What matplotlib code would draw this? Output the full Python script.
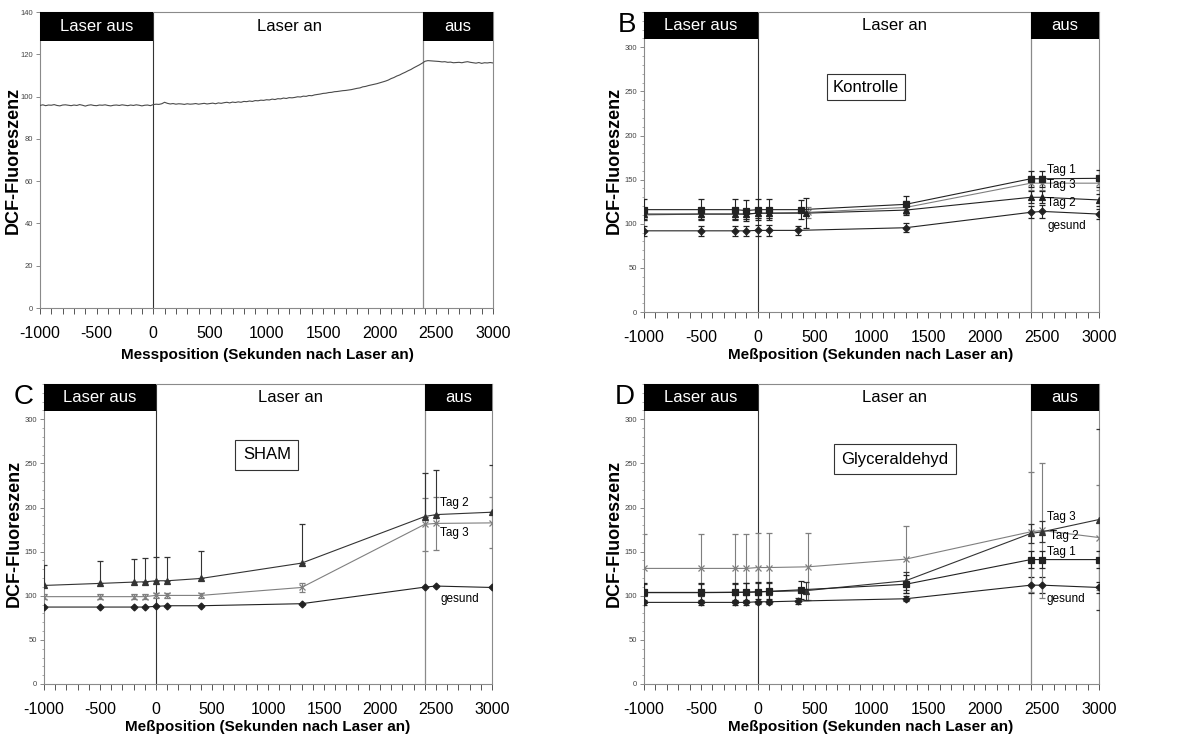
import numpy as np
import matplotlib
matplotlib.use("Agg")
import matplotlib.pyplot as plt
from matplotlib.ticker import MultipleLocator

plt.rcParams['font.family'] = ['Liberation Sans', 'DejaVu Sans']
plt.rcParams['axes.unicode_minus'] = False

# ---------------- Panel A data (continuous trace) ----------------
a_values = [
    95.8, 96.1, 95.7, 96.0, 95.9, 96.2, 95.8, 95.6, 96.0, 96.1,
    95.9, 95.7, 96.0, 95.8, 96.2, 95.9, 95.5, 95.9, 96.1, 95.8,
    95.7, 96.0, 95.9, 96.1, 95.8, 95.6, 95.9, 96.0, 95.8, 96.1,
    95.9, 95.7, 96.0, 95.8, 96.1, 95.9, 95.6, 95.9, 96.0, 95.7,
    96.2, 96.4, 96.3, 96.6, 97.3, 96.8, 96.5, 96.7, 96.4, 96.6,
    96.5, 96.3, 96.6, 96.4, 96.5, 96.7, 96.4, 96.6, 96.8, 96.5,
    96.7, 96.9, 96.6, 97.0, 96.8, 97.1, 97.3, 97.0, 97.4, 97.2,
    97.5, 97.3, 97.7, 97.6, 97.9, 97.7, 98.1, 98.0, 98.3, 98.2,
    98.5, 98.4, 98.8, 98.6, 99.0, 98.9, 99.3, 99.1, 99.5, 99.4,
    99.6, 99.9, 99.8, 100.2, 100.1, 100.5, 100.4, 100.8, 101.0, 101.2,
    101.5, 101.6, 101.9, 102.0, 102.3, 102.4, 102.6, 102.8, 102.9, 103.1,
    103.3, 103.6, 103.9, 104.1, 104.6, 104.8, 105.2, 105.5, 105.8, 106.1,
    106.5, 106.9, 107.3, 107.8, 108.5, 109.0, 109.7, 110.2, 110.9, 111.5,
    112.2, 112.8, 113.6, 114.3, 115.0, 115.8, 116.7, 117.0, 116.9, 116.8,
    116.7, 116.6, 116.4, 116.5, 116.2, 116.3, 116.0, 116.1, 116.2, 116.0,
    116.3, 116.5, 116.2, 116.0, 115.8, 116.1, 115.7, 116.0, 115.9, 116.1,
    115.9,
]
a_time = np.linspace(-1000, 3000, len(a_values))

# ---------------- Panel B (Kontrolle) ----------------
b_x_t1 = [-1000, -500, -200, -100, 0, 100, 380, 1300, 2400, 2500, 3000]
b_t1 = [116, 116, 116, 115, 116, 116, 116, 122, 151, 151, 151.5]
b_t1_err = [12, 12, 12, 12, 12, 12, 11, 10, 9, 9, 10]
b_x_t2 = [-1000, -500, -200, -100, 0, 100, 420, 1300, 2400, 2500, 3000]
b_t2 = [111, 111, 111, 111, 112, 112, 112, 115.5, 130, 130, 127]
b_t2_err = [6, 6, 6, 6, 6, 6, 17, 6, 7, 7, 7]
b_x_t3 = [-1000, -500, -200, -100, 0, 100, 440, 1300, 2400, 2500, 3000]
b_t3 = [110, 111, 111, 111, 112, 112, 113, 118.5, 146, 146, 146]
b_t3_err = [6, 6, 6, 6, 6, 6, 6, 7, 8, 8, 8]
b_x_g = [-1000, -500, -200, -100, 0, 100, 350, 1300, 2400, 2500, 3000]
b_g = [92, 92, 92, 92, 92.5, 92.5, 92.5, 95.5, 113, 114, 111]
b_g_err = [6, 6, 6, 6, 6, 6, 5, 5, 7, 7, 6]

# ---------------- Panel C (SHAM) ----------------
c_x = [-1000, -500, -200, -100, 0, 100, 400, 1300, 2400, 2500, 3000]
c_t2 = [111.7, 114, 115.5, 115.8, 117, 117, 119.6, 137, 189.8, 192, 194.7]
c_t2_err_lo = [0, 0, 0, 0, 0, 0, 0, 0, 0, 0, 0]
c_t2_err_hi = [23, 25, 26, 27, 27, 27, 31, 44, 49, 51, 53]
c_t3 = [99, 99, 99, 99, 100.4, 100.4, 100.4, 109.4, 181, 182, 182.6]
c_t3_err = [3, 3, 3, 3, 3, 3, 3, 5, 30, 30, 29]
c_g = [87.2, 87.2, 87.2, 87.2, 88, 88.7, 88.7, 91, 109.8, 111, 109.4]

# ---------------- Panel D (Glyceraldehyd) ----------------
d_x_sq = [-1000, -500, -200, -100, 0, 100, 380, 1300, 2400, 2500, 3000]
d_sq = [103.8, 103.8, 104, 104, 104.5, 105, 106.8, 113, 141, 141, 141]
d_sq_err = [11, 11, 11, 11, 11, 11, 10, 10, 10, 10, 10]
d_x_tri = [-1000, -500, -200, -100, 0, 100, 420, 1300, 2400, 2500, 3000]
d_tri = [103.5, 103.5, 103.8, 104, 104.3, 104.8, 105.7, 117, 170.6, 172.5, 186.4]
d_tri_err = [10, 10, 10, 10, 10, 10, 10, 10, 11, 12, 103]
d_x_cross = [-1000, -500, -200, -100, 0, 100, 440, 1300, 2400, 2500, 3000]
d_cross = [131, 131, 131, 131, 132, 132, 132.8, 141.5, 172.5, 174, 166]
d_cross_err = [39, 39, 39, 39, 39, 39, 38, 38, 68, 76, 60]
d_x_g = [-1000, -500, -200, -100, 0, 100, 350, 1300, 2400, 2500, 3000]
d_g = [92.5, 92.5, 92.5, 92.5, 93.2, 93.2, 94, 96.6, 112, 112, 109.4]
d_g_err = [3, 3, 3, 3, 3, 3, 3, 3, 9, 9, 6]

x_ticks = [-1000, -500, 0, 500, 1000, 1500, 2000, 2500, 3000]
phase_labels = ["Laser aus", "Laser an", "aus"]

W, H = 1190, 738
fig = plt.figure(figsize=(W / 100, H / 100), dpi=100)

def px_axes(l, t, r, b):
    return fig.add_axes([l / W, 1 - b / H, (r - l) / W, (b - t) / H])

BLACK = '#222222'
GRAY = '#7f7f7f'

def setup(ax, ymax, bar_bottom, yticks, yminor, laser_off_x):
    ax.set_xlim(-1000, 3000)
    ax.set_ylim(0, ymax)
    for s in ax.spines.values():
        s.set_color('#8a8a8a')
        s.set_linewidth(0.8)
    ax.set_xticks(x_ticks)
    ax.xaxis.set_minor_locator(MultipleLocator(100))
    ax.set_yticks(yticks)
    if yminor:
        ax.yaxis.set_minor_locator(MultipleLocator(yminor))
    ax.tick_params(axis='x', which='both', direction='out', length=4, width=0.7,
                   color='#555555', labelsize=11.5, pad=9)
    ax.tick_params(axis='y', which='major', direction='out', length=3, width=0.6,
                   color='#777777', labelsize=5.5, labelcolor='#444444', pad=2)
    ax.tick_params(axis='y', which='minor', direction='out', length=1.5, width=0.5,
                   color='#888888')
    # black header bars
    ax.fill_between([-1000, 0], bar_bottom, ymax, color='black', lw=0, zorder=5)
    ax.fill_between([laser_off_x, 3000], bar_bottom, ymax, color='black', lw=0, zorder=5)
    ymid = (bar_bottom + ymax) / 2
    ax.text(-500, ymid, phase_labels[0], color='white', ha='center', va='center',
            fontsize=12, zorder=6)
    ax.text(1200, ymid, phase_labels[1], color='black', ha='center', va='center',
            fontsize=12, zorder=6)
    ax.text((laser_off_x + 3000) / 2, ymid, phase_labels[2], color='white',
            ha='center', va='center', fontsize=12, zorder=6)
    ax.axvline(0, color='#333333', lw=0.8, zorder=1)
    ax.axvline(laser_off_x, color='#8a8a8a', lw=0.9, zorder=1)

def ylabel(x, y):
    fig.text(x / W, 1 - y / H, "DCF-Fluoreszenz", rotation=90, ha='center', va='center',
             fontsize=13, fontweight='bold')

def xlabel(x, y, txt):
    fig.text(x / W, 1 - y / H, txt, ha='center', va='center', fontsize=11,
             fontweight='bold')

def series(ax, x, y, err, marker, ms, color):
    ax.errorbar(x, y, yerr=err, color=color, lw=0.8, marker=marker, ms=ms,
                mfc=color, mec=color, mew=0.9, elinewidth=0.8, capsize=2,
                capthick=0.8, ecolor=color, zorder=3)

y_ticks_a = [0, 20, 40, 60, 80, 100, 120, 140]
y_ticks_bcd = [0, 50, 100, 150, 200, 250, 300]

# ---------------- Panel A ----------------
axA = px_axes(40, 12, 493, 308)
setup(axA, 140, 126.3, y_ticks_a, None, 2380)
axA.plot(a_time, a_values, color='#4a4a4a', lw=0.8, zorder=3)
ylabel(13, 160)
xlabel(267, 355, "Messposition (Sekunden nach Laser an)")

# ---------------- Panel B ----------------
axB = px_axes(644, 12, 1099, 312)
setup(axB, 340, 309, y_ticks_bcd, 10, 2400)
series(axB, b_x_g, b_g, b_g_err, 'D', 3.5, BLACK)
series(axB, b_x_t3, b_t3, b_t3_err, 'x', 5, GRAY)
series(axB, b_x_t2, b_t2, b_t2_err, '^', 5, BLACK)
series(axB, b_x_t1, b_t1, b_t1_err, 's', 5, BLACK)
axB.text(950, 255, "Kontrolle", ha='center', va='center', fontsize=12,
         bbox=dict(boxstyle='square,pad=0.35', fc='white', ec='#333333', lw=0.8))
for txt, yy in [("Tag 1", 161), ("Tag 3", 144), ("Tag 2", 123), ("gesund", 97)]:
    axB.text(2545, yy, txt, fontsize=8.5, ha='left', va='center', zorder=7)
ylabel(614, 160)
xlabel(871, 355, "Meßposition (Sekunden nach Laser an)")
fig.text(618 / W, 1 - 25 / H, "B", fontsize=20, ha='left', va='center')

# ---------------- Panel C ----------------
axC = px_axes(44, 384, 492, 684)
setup(axC, 340, 309, y_ticks_bcd, 10, 2400)
series(axC, c_x, c_g, None, 'D', 3.5, BLACK)
series(axC, c_x, c_t3, c_t3_err, 'x', 5, GRAY)
series(axC, c_x, c_t2, [c_t2_err_lo, c_t2_err_hi], '^', 5, '#333333')
axC.text(990, 260, "SHAM", ha='center', va='center', fontsize=12,
         bbox=dict(boxstyle='square,pad=0.45', fc='white', ec='#333333', lw=0.8))
for txt, yy in [("Tag 2", 205), ("Tag 3", 171), ("gesund", 96)]:
    axC.text(2540, yy, txt, fontsize=8.5, ha='left', va='center', zorder=7)
ylabel(14, 533)
xlabel(268, 727, "Meßposition (Sekunden nach Laser an)")
fig.text(14 / W, 1 - 397 / H, "C", fontsize=20, ha='left', va='center')

# ---------------- Panel D ----------------
axD = px_axes(644, 384, 1099, 684)
setup(axD, 340, 309, y_ticks_bcd, 10, 2400)
series(axD, d_x_g, d_g, d_g_err, 'D', 3.5, BLACK)
series(axD, d_x_cross, d_cross, d_cross_err, 'x', 5, GRAY)
series(axD, d_x_tri, d_tri, d_tri_err, '^', 5, '#333333')
series(axD, d_x_sq, d_sq, d_sq_err, 's', 5, BLACK)
axD.text(1205, 255, "Glyceraldehyd", ha='center', va='center', fontsize=12,
         bbox=dict(boxstyle='square,pad=0.45', fc='white', ec='#333333', lw=0.8))
for txt, xx, yy in [("Tag 3", 2540, 189), ("Tag 2", 2567, 168), ("Tag 1", 2540, 150), ("gesund", 2540, 96)]:
    axD.text(xx, yy, txt, fontsize=8.5, ha='left', va='center', zorder=7)
ylabel(614, 533)
xlabel(871, 727, "Meßposition (Sekunden nach Laser an)")
fig.text(615 / W, 1 - 397 / H, "D", fontsize=20, ha='left', va='center')

fig.savefig("out.png", dpi=100)
